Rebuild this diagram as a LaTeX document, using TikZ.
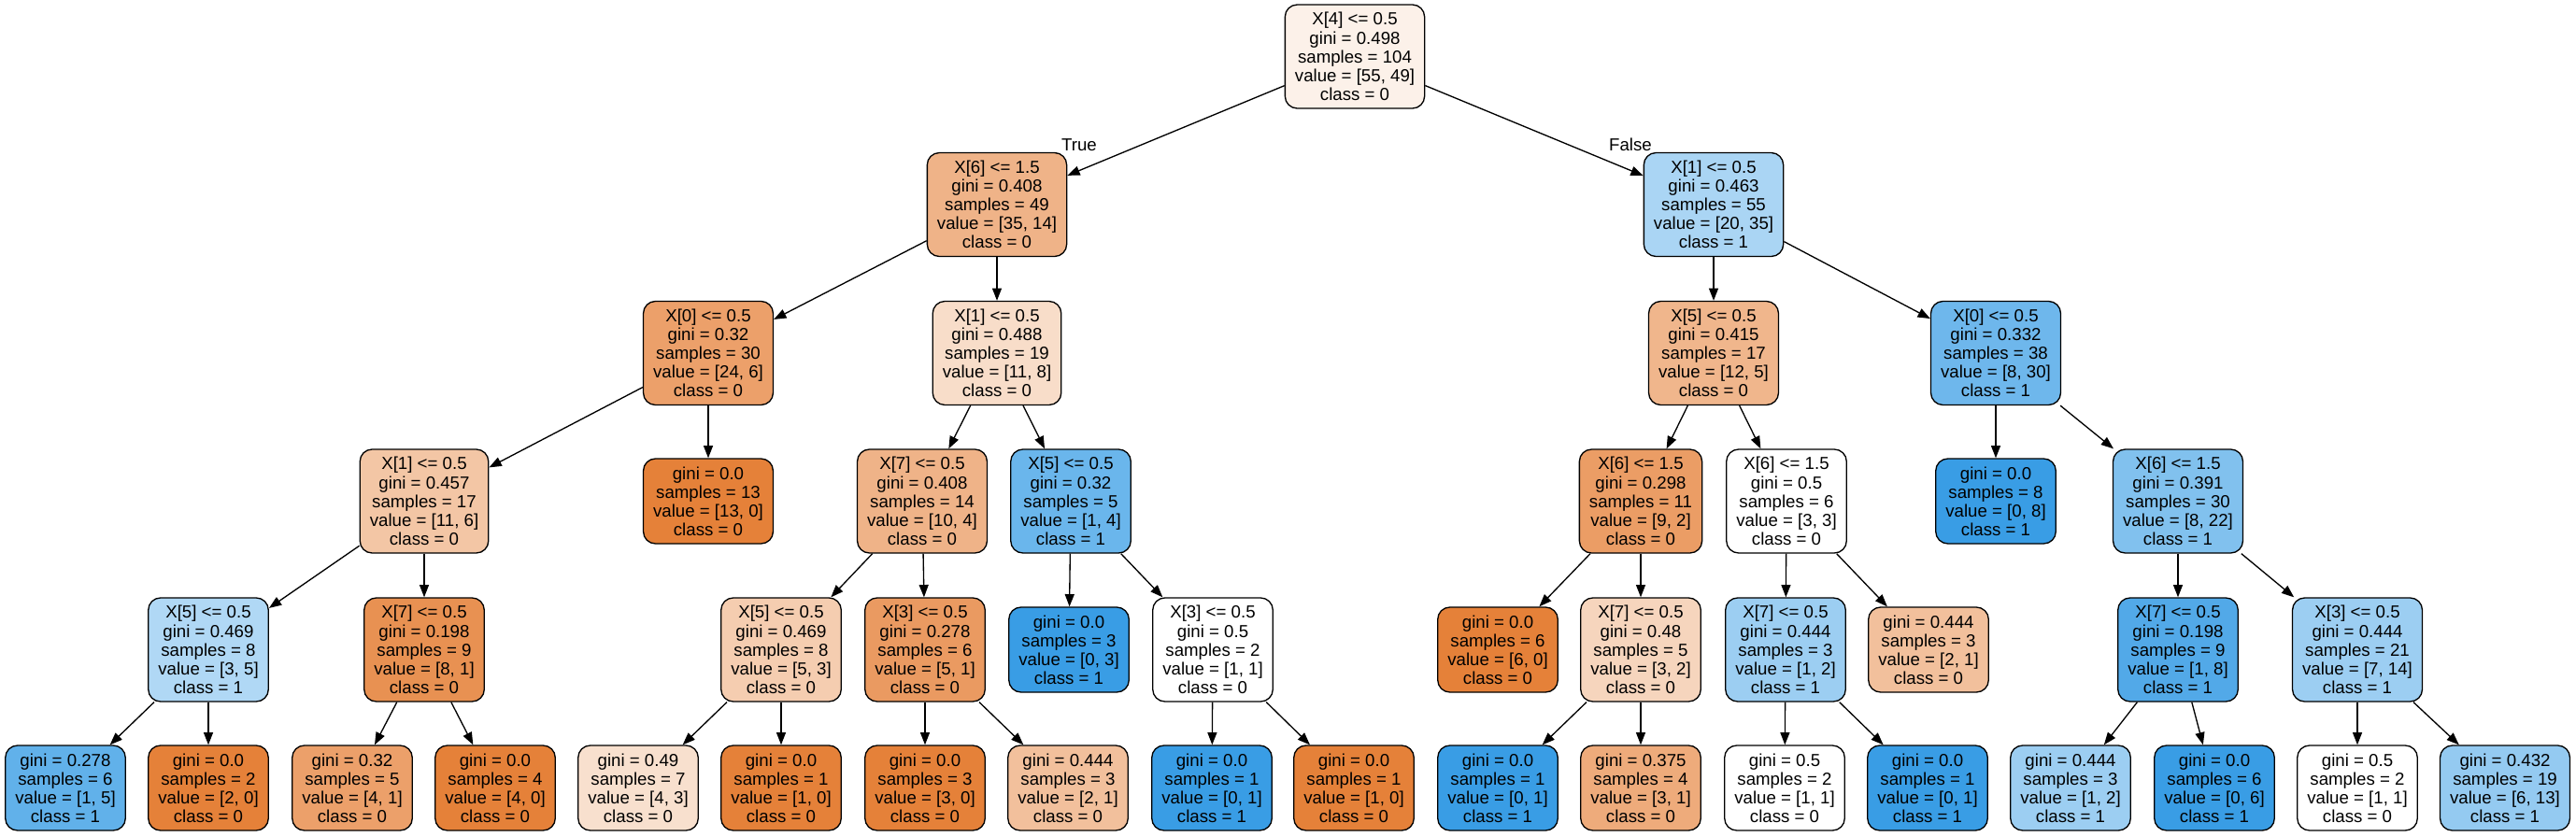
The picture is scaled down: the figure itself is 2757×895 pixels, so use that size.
\documentclass[tikz,border=0pt]{standalone}
\usepackage{fontspec}
\setmainfont{Liberation Sans}
\usetikzlibrary{arrows.meta}
\definecolor{cO}{RGB}{229,129,57}
\definecolor{cB}{RGB}{57,157,229}
\definecolor{c0}{RGB}{252,241,233}
\definecolor{c1}{RGB}{239,179,136}
\definecolor{c2}{RGB}{170,213,244}
\definecolor{c3}{RGB}{236,160,106}
\definecolor{c4}{RGB}{248,221,201}
\definecolor{c5}{RGB}{240,182,140}
\definecolor{c6}{RGB}{110,183,236}
\definecolor{c7}{RGB}{243,198,165}
\definecolor{c10}{RGB}{106,182,236}
\definecolor{c11}{RGB}{235,157,101}
\definecolor{c14}{RGB}{129,193,238}
\definecolor{c15}{RGB}{176,216,245}
\definecolor{c16}{RGB}{232,145,82}
\definecolor{c17}{RGB}{245,205,176}
\definecolor{c18}{RGB}{234,154,97}
\definecolor{c22}{RGB}{246,213,189}
\definecolor{cLB}{RGB}{156,206,242}
\definecolor{cLO}{RGB}{242,192,156}
\definecolor{c25}{RGB}{82,169,232}
\definecolor{c27}{RGB}{97,177,234}
\definecolor{c31}{RGB}{248,224,206}
\definecolor{c38}{RGB}{238,171,123}
\definecolor{c44}{RGB}{148,202,241}
\begin{document}
\begin{tikzpicture}[x=1pt,y=-1pt,
  every node/.style={font=\fontsize{18.67}{20.1}\selectfont},
  tn/.style={draw=black, line width=1.33pt, rounded corners=13pt, align=center, inner xsep=10.56pt, inner ysep=0pt},
  split/.style={tn, minimum height=111pt},
  leaf/.style={tn, minimum height=91pt},
  conn/.style={draw=black, line width=1.33pt, -{Triangle[length=13.3pt,width=10pt]}},
  lbl/.style={inner sep=0pt}]
\useasboundingbox (0,0) rectangle (2757,895);
% level 0
\node[split, fill=c0] (n0) at (1450,60.5) {X[4] <= 0.5\\gini = 0.498\\samples = 104\\value = [55, 49]\\class = 0};
% level 1
\node[split, fill=c1] (n1) at (1067,219) {X[6] <= 1.5\\gini = 0.408\\samples = 49\\value = [35, 14]\\class = 0};
\node[split, fill=c2] (n2) at (1834,219) {X[1] <= 0.5\\gini = 0.463\\samples = 55\\value = [20, 35]\\class = 1};
% level 2
\node[split, fill=c3] (n3) at (758,378) {X[0] <= 0.5\\gini = 0.32\\samples = 30\\value = [24, 6]\\class = 0};
\node[split, fill=c4] (n4) at (1067,378) {X[1] <= 0.5\\gini = 0.488\\samples = 19\\value = [11, 8]\\class = 0};
\node[split, fill=c5] (n5) at (1834,378) {X[5] <= 0.5\\gini = 0.415\\samples = 17\\value = [12, 5]\\class = 0};
\node[split, fill=c6] (n6) at (2136,378) {X[0] <= 0.5\\gini = 0.332\\samples = 38\\value = [8, 30]\\class = 1};
% level 3
\node[split, fill=c7] (n7) at (454,536.5) {X[1] <= 0.5\\gini = 0.457\\samples = 17\\value = [11, 6]\\class = 0};
\node[leaf, fill=cO] (n8) at (758,536.5) {gini = 0.0\\samples = 13\\value = [13, 0]\\class = 0};
\node[split, fill=c1] (n9) at (987,536.5) {X[7] <= 0.5\\gini = 0.408\\samples = 14\\value = [10, 4]\\class = 0};
\node[split, fill=c10] (n10) at (1146,536.5) {X[5] <= 0.5\\gini = 0.32\\samples = 5\\value = [1, 4]\\class = 1};
\node[split, fill=c11] (n11) at (1756,536.5) {X[6] <= 1.5\\gini = 0.298\\samples = 11\\value = [9, 2]\\class = 0};
\node[split, fill=white] (n12) at (1912,536.5) {X[6] <= 1.5\\gini = 0.5\\samples = 6\\value = [3, 3]\\class = 0};
\node[leaf, fill=cB] (n13) at (2136,536.5) {gini = 0.0\\samples = 8\\value = [0, 8]\\class = 1};
\node[split, fill=c14] (n14) at (2331,536.5) {X[6] <= 1.5\\gini = 0.391\\samples = 30\\value = [8, 22]\\class = 1};
% level 4
\node[split, fill=c15] (n15) at (223,695.5) {X[5] <= 0.5\\gini = 0.469\\samples = 8\\value = [3, 5]\\class = 1};
\node[split, fill=c16] (n16) at (454,695.5) {X[7] <= 0.5\\gini = 0.198\\samples = 9\\value = [8, 1]\\class = 0};
\node[split, fill=c17] (n17) at (836,695.5) {X[5] <= 0.5\\gini = 0.469\\samples = 8\\value = [5, 3]\\class = 0};
\node[split, fill=c18] (n18) at (990,695.5) {X[3] <= 0.5\\gini = 0.278\\samples = 6\\value = [5, 1]\\class = 0};
\node[leaf, fill=cB] (n19) at (1144,695.5) {gini = 0.0\\samples = 3\\value = [0, 3]\\class = 1};
\node[split, fill=white] (n20) at (1298,695.5) {X[3] <= 0.5\\gini = 0.5\\samples = 2\\value = [1, 1]\\class = 0};
\node[leaf, fill=cO] (n21) at (1603,695.5) {gini = 0.0\\samples = 6\\value = [6, 0]\\class = 0};
\node[split, fill=c22] (n22) at (1756,695.5) {X[7] <= 0.5\\gini = 0.48\\samples = 5\\value = [3, 2]\\class = 0};
\node[split, fill=cLB] (n23) at (1911,695.5) {X[7] <= 0.5\\gini = 0.444\\samples = 3\\value = [1, 2]\\class = 1};
\node[leaf, fill=cLO] (n24) at (2064,695.5) {gini = 0.444\\samples = 3\\value = [2, 1]\\class = 0};
\node[split, fill=c25] (n25) at (2331,695.5) {X[7] <= 0.5\\gini = 0.198\\samples = 9\\value = [1, 8]\\class = 1};
\node[split, fill=cLB] (n26) at (2523,695.5) {X[3] <= 0.5\\gini = 0.444\\samples = 21\\value = [7, 14]\\class = 1};
% level 5
\node[leaf, fill=c27] (n27) at (70,843.5) {gini = 0.278\\samples = 6\\value = [1, 5]\\class = 1};
\node[leaf, fill=cO] (n28) at (223,843.5) {gini = 0.0\\samples = 2\\value = [2, 0]\\class = 0};
\node[leaf, fill=c3] (n29) at (377,843.5) {gini = 0.32\\samples = 5\\value = [4, 1]\\class = 0};
\node[leaf, fill=cO] (n30) at (530,843.5) {gini = 0.0\\samples = 4\\value = [4, 0]\\class = 0};
\node[leaf, fill=c31] (n31) at (683,843.5) {gini = 0.49\\samples = 7\\value = [4, 3]\\class = 0};
\node[leaf, fill=cO] (n32) at (836,843.5) {gini = 0.0\\samples = 1\\value = [1, 0]\\class = 0};
\node[leaf, fill=cO] (n33) at (990,843.5) {gini = 0.0\\samples = 3\\value = [3, 0]\\class = 0};
\node[leaf, fill=cLO] (n34) at (1143,843.5) {gini = 0.444\\samples = 3\\value = [2, 1]\\class = 0};
\node[leaf, fill=cB] (n35) at (1297,843.5) {gini = 0.0\\samples = 1\\value = [0, 1]\\class = 1};
\node[leaf, fill=cO] (n36) at (1449,843.5) {gini = 0.0\\samples = 1\\value = [1, 0]\\class = 0};
\node[leaf, fill=cB] (n37) at (1603,843.5) {gini = 0.0\\samples = 1\\value = [0, 1]\\class = 1};
\node[leaf, fill=c38] (n38) at (1756,843.5) {gini = 0.375\\samples = 4\\value = [3, 1]\\class = 0};
\node[leaf, fill=white] (n39) at (1910,843.5) {gini = 0.5\\samples = 2\\value = [1, 1]\\class = 0};
\node[leaf, fill=cB] (n40) at (2063,843.5) {gini = 0.0\\samples = 1\\value = [0, 1]\\class = 1};
\node[leaf, fill=cLB] (n41) at (2216,843.5) {gini = 0.444\\samples = 3\\value = [1, 2]\\class = 1};
\node[leaf, fill=cB] (n42) at (2370,843.5) {gini = 0.0\\samples = 6\\value = [0, 6]\\class = 1};
\node[leaf, fill=white] (n43) at (2523,843.5) {gini = 0.5\\samples = 2\\value = [1, 1]\\class = 0};
\node[leaf, fill=c44] (n44) at (2681,843.5) {gini = 0.432\\samples = 19\\value = [6, 13]\\class = 1};
% edge labels
\node[lbl] (tl) at (1155,155.5) {True};
\node[lbl] (fl) at (1745,155) {False};
% connectors
\foreach \a/\b in {n0/n1,n0/n2,n1/n3,n1/n4,n2/n5,n2/n6,n3/n7,n3/n8,n4/n9,n4/n10,n5/n11,n5/n12,n6/n13,n6/n14,
  n7/n15,n7/n16,n9/n17,n9/n18,n10/n19,n10/n20,n11/n21,n11/n22,n12/n23,n12/n24,n14/n25,n14/n26,
  n15/n27,n15/n28,n16/n29,n16/n30,n17/n31,n17/n32,n18/n33,n18/n34,n20/n35,n20/n36,n22/n37,n22/n38,
  n23/n39,n23/n40,n25/n41,n25/n42,n26/n43,n26/n44}
  \draw[conn] (\a) -- (\b);
\end{tikzpicture}
\end{document}
